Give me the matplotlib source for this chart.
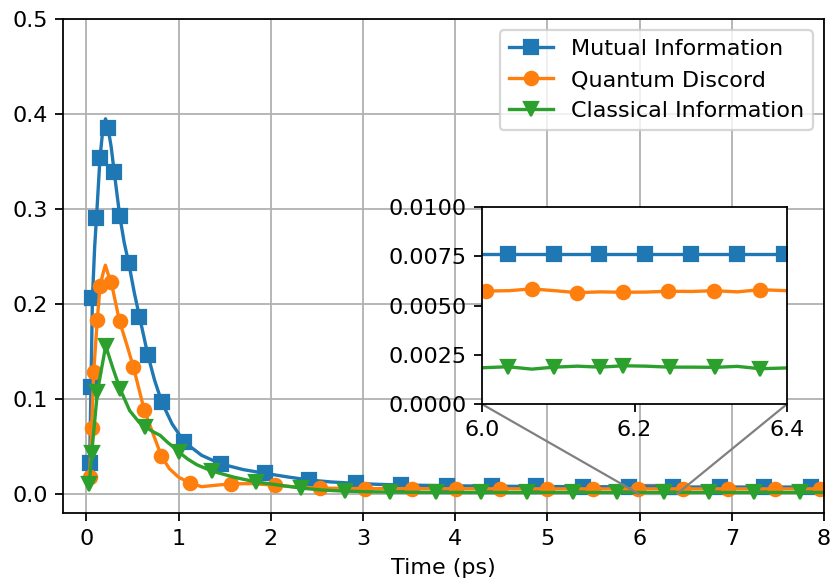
import numpy as np
import matplotlib
matplotlib.use("Agg")
import matplotlib.pyplot as plt
from mpl_toolkits.axes_grid1.inset_locator import mark_inset

# ---- Mutual information: time (ps) and value, plus the times carrying markers
mi_t = [0.03, 0.036, 0.05, 0.066, 0.09, 0.11, 0.148, 0.18, 0.208, 0.236, 0.27, 0.302,
        0.362, 0.41, 0.46, 0.52, 0.576, 0.666, 0.74, 0.818, 0.93, 1.062, 1.25, 1.457,
        1.7, 1.94, 2.2, 2.42, 2.65, 2.92, 3.15, 3.41, 3.91, 4.40, 4.88, 5.39, 5.88,
        6.36, 6.87, 7.35, 7.86, 8.0]
mi_y = [0.028, 0.033, 0.113, 0.206, 0.26, 0.291, 0.354, 0.385, 0.395, 0.385, 0.365,
        0.339, 0.293, 0.265, 0.243, 0.212, 0.187, 0.147, 0.12, 0.097, 0.074, 0.055,
        0.041, 0.032, 0.026, 0.022, 0.018, 0.015, 0.013, 0.0115, 0.0105, 0.0098,
        0.009, 0.0085, 0.0082, 0.008, 0.0078, 0.0077, 0.0076, 0.0076, 0.0076, 0.0076]
mi_marks = [0.036, 0.05, 0.066, 0.11, 0.148, 0.236, 0.302, 0.362, 0.46, 0.576, 0.666,
            0.818, 1.062, 1.457, 1.94, 2.42, 2.92, 3.41, 3.91, 4.40, 4.88, 5.39, 5.88,
            6.36, 6.87, 7.35, 7.86]

# ---- Quantum discord
qd_t = [0.03, 0.036, 0.058, 0.08, 0.118, 0.148, 0.18, 0.206, 0.235, 0.27, 0.36, 0.44,
        0.51, 0.627, 0.73, 0.815, 0.9, 1.0, 1.123, 1.25, 1.4, 1.573, 1.8, 2.05, 2.3,
        2.53, 3.02, 3.53, 4.01, 4.49, 5.0, 5.49, 5.98, 6.47, 6.96, 7.47, 7.96, 8.0]
qd_y = [0.012, 0.018, 0.07, 0.129, 0.183, 0.219, 0.232, 0.241, 0.232, 0.223, 0.182,
        0.157, 0.134, 0.089, 0.062, 0.040, 0.027, 0.018, 0.012, 0.008, 0.0095, 0.011,
        0.0112, 0.0095, 0.0075, 0.0065, 0.006, 0.006, 0.0058, 0.0058, 0.0057, 0.0057,
        0.0057, 0.0057, 0.0057, 0.0057, 0.0057, 0.0057]
qd_marks = [0.036, 0.058, 0.08, 0.118, 0.148, 0.27, 0.36, 0.51, 0.627, 0.815, 1.123,
            1.573, 2.05, 2.53, 3.02, 3.53, 4.01, 4.49, 5.0, 5.49, 5.98, 6.47, 6.96,
            7.47, 7.96]

# ---- Classical information
ci_t = [0.033, 0.058, 0.12, 0.17, 0.21, 0.29, 0.365, 0.47, 0.57, 0.641, 0.72, 0.8,
        0.877, 0.94, 1.003, 1.1, 1.2, 1.36, 1.6, 1.837, 2.1, 2.33, 2.56, 2.80, 3.05,
        3.29, 3.79, 4.28, 4.78, 5.28, 5.76, 6.26, 6.75, 7.24, 7.74, 8.0]
ci_y = [0.011, 0.043, 0.108, 0.135, 0.156, 0.132, 0.111, 0.088, 0.076, 0.071, 0.066,
        0.062, 0.055, 0.05, 0.0445, 0.037, 0.031, 0.0245, 0.018, 0.013, 0.0095, 0.0065,
        0.0045, 0.0033, 0.0027, 0.0023, 0.002, 0.0019, 0.0019, 0.0019, 0.0019, 0.0019,
        0.0019, 0.0019, 0.0019, 0.0019]
ci_marks = [0.033, 0.058, 0.12, 0.21, 0.365, 0.641, 1.003, 1.36, 1.837, 2.33, 2.80,
            3.29, 3.79, 4.28, 4.78, 5.28, 5.76, 6.26, 6.75, 7.24, 7.74]

# ---- Detail of the 6.0-6.4 ps window
mi_zoom_t = [6.0, 6.034, 6.094, 6.154, 6.214, 6.274, 6.335, 6.396, 6.4]
mi_zoom_y = [0.0076, 0.0076, 0.0076, 0.0076, 0.0076, 0.0076, 0.0076, 0.0076, 0.0076]
mi_zoom_marks = [6.034, 6.094, 6.154, 6.214, 6.274, 6.335, 6.396]

qd_zoom_t = [6.0, 6.005, 6.035, 6.065, 6.095, 6.125, 6.155, 6.185, 6.215, 6.244,
             6.275, 6.305, 6.335, 6.365, 6.4]
qd_zoom_y = [0.00574, 0.00573, 0.00575, 0.00584, 0.00575, 0.00565, 0.00569, 0.00567,
             0.00568, 0.00572, 0.00571, 0.00575, 0.00569, 0.0058, 0.00575]
qd_zoom_marks = [6.005, 6.065, 6.125, 6.185, 6.244, 6.305, 6.365]

ci_zoom_t = [6.0, 6.034, 6.065, 6.094, 6.125, 6.155, 6.185, 6.215, 6.246, 6.275,
             6.306, 6.335, 6.365, 6.4]
ci_zoom_y = [0.00185, 0.0019, 0.00178, 0.00188, 0.00193, 0.00188, 0.00195, 0.00193,
             0.00188, 0.00188, 0.00187, 0.00192, 0.0018, 0.00184]
ci_zoom_marks = [6.034, 6.094, 6.155, 6.185, 6.246, 6.306, 6.365]

labels = ["Mutual Information", "Quantum Discord", "Classical Information"]
colors = ["#1f77b4", "#ff7f0e", "#2ca02c"]
markers = ["s", "o", "v"]


def mark_index(t, marks):
    t = np.asarray(t)
    return [int(np.argmin(np.abs(t - m))) for m in marks]


main_series = [(mi_t, mi_y, mi_marks), (qd_t, qd_y, qd_marks), (ci_t, ci_y, ci_marks)]
zoom_series = [(mi_zoom_t, mi_zoom_y, mi_zoom_marks),
               (qd_zoom_t, qd_zoom_y, qd_zoom_marks),
               (ci_zoom_t, ci_zoom_y, ci_zoom_marks)]

DPI = 160
fig = plt.figure(figsize=(832 / DPI, 586 / DPI), dpi=DPI)
ax = fig.add_axes([63.3 / 832, 1 - 513.3 / 586, (824 - 63.3) / 832, (513.3 - 19) / 586])

for (t, y, m), lab, c, mk in zip(main_series, labels, colors, markers):
    ax.plot(t, y, color=c, marker=mk, markevery=mark_index(t, m), label=lab)

ax.set_xlim(-0.25, 8)
ax.set_ylim(-0.02, 0.5)
ax.set_xticks(range(0, 9))
ax.set_yticks([0.0, 0.1, 0.2, 0.3, 0.4, 0.5])
ax.grid(True)
ax.set_xlabel("Time (ps)")
ax.legend(loc="upper right")

axins = fig.add_axes([482.3 / 832, 1 - 404.3 / 586, (786.7 - 482.3) / 832, (404.3 - 206.7) / 586])
for (t, y, m), c, mk in zip(zoom_series, colors, markers):
    axins.plot(t, y, color=c, marker=mk, markevery=mark_index(t, m))
axins.set_xlim(6.0, 6.4)
axins.set_ylim(0.0, 0.01)
axins.set_xticks([6.0, 6.2, 6.4])
axins.set_yticks([0.0, 0.0025, 0.005, 0.0075, 0.01])
axins.yaxis.set_major_formatter(matplotlib.ticker.FormatStrFormatter("%.4f"))
axins.xaxis.set_major_formatter(matplotlib.ticker.FormatStrFormatter("%.1f"))

mark_inset(ax, axins, loc1=3, loc2=4, fc="none", ec="0.5")

fig.savefig("out.png", dpi=DPI)
